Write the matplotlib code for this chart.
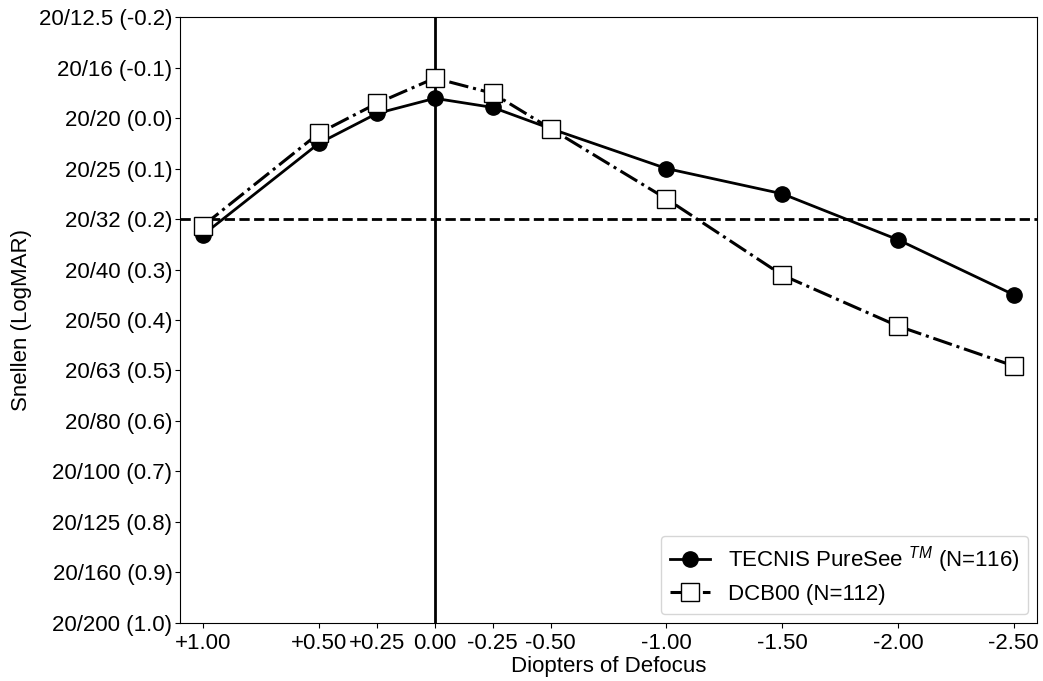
import numpy as np
import matplotlib
matplotlib.use("Agg")
import matplotlib.pyplot as plt

plt.rcParams['font.family'] = ['Liberation Sans', 'DejaVu Sans']
plt.rcParams['mathtext.fontset'] = 'custom'
plt.rcParams['mathtext.it'] = 'Liberation Sans:italic'
plt.rcParams['mathtext.rm'] = 'Liberation Sans'

defocus = [1.00, 0.50, 0.25, 0.00, -0.25, -0.50, -1.00, -1.50, -2.00, -2.50]
defocus_labels = ['+1.00', '+0.50', '+0.25', '0.00', '-0.25', '-0.50',
                  '-1.00', '-1.50', '-2.00', '-2.50']
tecnis = [0.231, 0.050, -0.009, -0.039, -0.021, 0.021, 0.100, 0.150, 0.241, 0.350]
dcb00 = [0.213, 0.030, -0.029, -0.079, -0.049, 0.021, 0.160, 0.311, 0.412, 0.491]

logmar_ticks = [-0.2, -0.1, 0.0, 0.1, 0.2, 0.3, 0.4, 0.5, 0.6, 0.7, 0.8, 0.9, 1.0]
snellen = ['12.5', '16', '20', '25', '32', '40', '50', '63', '80', '100', '125', '160', '200']
ytick_labels = ['20/%s (%.1f)' % (s, v) for s, v in zip(snellen, logmar_ticks)]
ytick_labels = [t.replace('(-0.0)', '(0.0)') for t in ytick_labels]

fig = plt.figure(figsize=(10.43, 6.81), dpi=100)
ax = fig.add_axes([0.1726, 0.0852, 0.8216, 0.8898])

ax.axhline(0.2, color='black', ls='--', lw=2, zorder=1)
ax.axvline(0.0, color='black', ls='-', lw=2, zorder=1)

ax.plot(defocus, tecnis, color='black', ls='-', lw=2, marker='o', markersize=11,
        label='TECNIS PureSee $^{TM}$ (N=116)', zorder=3)
ax.plot(defocus, dcb00, color='black', ls='-.', lw=2.2, marker='s', markersize=13,
        markerfacecolor='white', markeredgecolor='black', markeredgewidth=1,
        label='DCB00 (N=112)', zorder=4)

ax.set_xlim(1.1, -2.6)
ax.set_ylim(1.0, -0.2)
ax.set_xticks(defocus)
ax.set_xticklabels(defocus_labels)
ax.set_yticks(logmar_ticks)
ax.set_yticklabels(ytick_labels)
ax.tick_params(labelsize=16, pad=2)
ax.tick_params(axis='x', pad=3.5)
ax.set_xlabel('Diopters of Defocus', fontsize=16, labelpad=2)
ax.set_ylabel('Snellen (LogMAR)', fontsize=16, labelpad=5)

ax.legend(loc='lower right', fontsize=16, handlelength=1.8, borderaxespad=0.4,
          labelspacing=0.4)

fig.savefig('out.png', dpi=100)
